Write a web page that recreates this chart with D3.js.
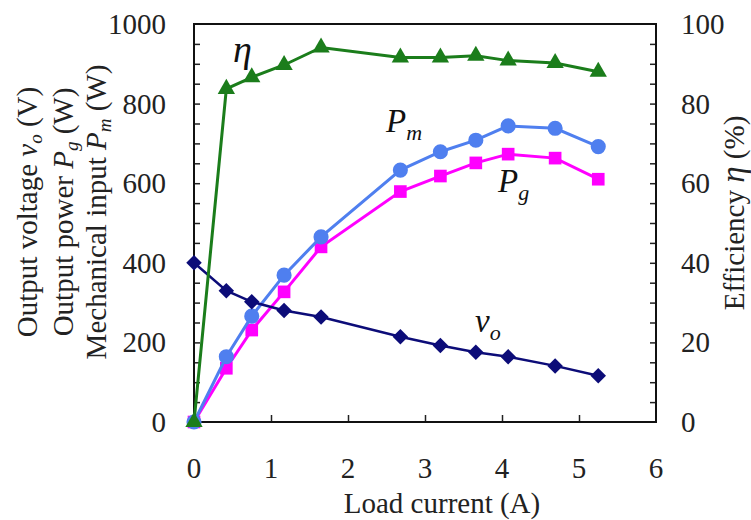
<!DOCTYPE html>
<html lang="en">
  <head>
    <meta charset="UTF-8" />
    <script src="https://d3js.org/d3.v7.min.js"></script>
    <style>
      body { margin: 0; background: #fff; }
    </style>
    <title>Load current</title>
  </head>
  <body>
    <svg id="chart" width="751" height="520"></svg>
    <script>
      // values
      const current = [0, 0.42, 0.75, 1.17, 1.65, 2.68, 3.2, 3.66, 4.08, 4.69, 5.25];
      const vo = [400, 330, 302, 280, 264, 214, 192, 175, 164, 141, 116];
      const pm = [0, 164, 266, 369, 465, 633, 679, 708, 744, 738, 692];
      const pg = [0, 135, 231, 327, 440, 579, 618, 651, 673, 663, 610];
      const eta = [0, 83.7, 86.6, 89.7, 94.1, 91.6, 91.6, 92.0, 90.8, 90.2, 88.0];
      const xTicks = [0, 1, 2, 3, 4, 5, 6];
      const leftTicks = [0, 200, 400, 600, 800, 1000];
      const rightTicks = [0, 20, 40, 60, 80, 100];

      const serif = "Liberation Serif, DejaVu Serif, serif";
      const svg = d3.select("#chart");
      const plotLeft = 194, plotRight = 656, plotTop = 24, plotBottom = 422;

      const x = d3.scaleLinear().domain([0, 6]).range([plotLeft, plotRight]);
      const y = d3.scaleLinear().domain([0, 1000]).range([plotBottom, plotTop]);
      const y2 = d3.scaleLinear().domain([0, 100]).range([plotBottom, plotTop]);

      // axes with inward ticks
      svg.append("g")
        .attr("transform", `translate(0,${plotBottom})`)
        .call(d3.axisTop(x).tickValues(d3.range(1, 6)).tickSize(7).tickFormat(""))
        .call(g => g.select(".domain").remove());
      svg.append("g")
        .attr("transform", `translate(${plotLeft},0)`)
        .call(d3.axisRight(y).tickValues(d3.range(50, 1000, 50)).tickSize(6).tickFormat(""))
        .call(g => g.select(".domain").remove());
      svg.append("g")
        .attr("transform", `translate(${plotRight},0)`)
        .call(d3.axisLeft(y2).tickValues(d3.range(5, 100, 5)).tickSize(6).tickFormat(""))
        .call(g => g.select(".domain").remove());
      svg.selectAll(".tick line").attr("stroke", "#222").attr("stroke-width", 1.5);

      svg.append("rect")
        .attr("x", plotLeft).attr("y", plotTop)
        .attr("width", plotRight - plotLeft).attr("height", plotBottom - plotTop)
        .attr("fill", "none").attr("stroke", "#111").attr("stroke-width", 2);

      const texts = svg.append("g")
        .attr("font-family", serif)
        .attr("fill", "#222");

      // tick labels
      texts.selectAll("text.xl").data(xTicks).join("text")
        .attr("class", "xl")
        .attr("x", d => x(d)).attr("y", 478)
        .attr("text-anchor", "middle").attr("font-size", 29)
        .text(d => d);
      texts.selectAll("text.yl").data(leftTicks).join("text")
        .attr("class", "yl")
        .attr("x", 166).attr("y", d => y(d) + 10)
        .attr("text-anchor", "end").attr("font-size", 29)
        .text(d => d);
      texts.selectAll("text.y2l").data(rightTicks).join("text")
        .attr("class", "y2l")
        .attr("x", 681).attr("y", d => y2(d) + 10)
        .attr("text-anchor", "start").attr("font-size", 29)
        .text(d => d);

      texts.append("text")
        .attr("x", x(3) + 17).attr("y", 513)
        .attr("text-anchor", "middle").attr("font-size", 29)
        .text("Load current (A)");

      // left titles
      const leftTitles = [
        { bx: 37, a: "Output voltage ", v: "v", s: "o", b: " (V)" },
        { bx: 73, a: "Output power ", v: "P", s: "g", b: " (W)" },
        { bx: 106, a: "Mechanical input ", v: "P", s: "m", b: " (W)" }
      ];
      leftTitles.forEach(t => {
        const tx = texts.append("text")
          .attr("transform", `translate(${t.bx},212) rotate(-90)`)
          .attr("text-anchor", "middle").attr("font-size", 29);
        tx.append("tspan").text(t.a);
        tx.append("tspan").attr("font-style", "italic").text(t.v);
        tx.append("tspan").attr("font-style", "italic").attr("font-size", 19).attr("dy", 5).text(t.s);
        tx.append("tspan").attr("dy", -5).text(t.b);
      });

      const rt = texts.append("text")
        .attr("transform", "translate(744,213) rotate(-90)")
        .attr("text-anchor", "middle").attr("font-size", 29);
      rt.append("tspan").text("Efficiency ");
      rt.append("tspan").attr("font-style", "italic").attr("font-size", 33).text("η");
      rt.append("tspan").text(" (%)");

      // series
      const series = [
        { vals: pg, scale: y, color: "#ff00ff", sym: d3.symbolSquare, size: 160, rot: 0, w: 3 },
        { vals: pm, scale: y, color: "#4f7fef", sym: d3.symbolCircle, size: 180, rot: 0, w: 3 },
        { vals: vo, scale: y, color: "#0c0c78", sym: d3.symbolSquare, size: 120, rot: 45, w: 2.5 },
        { vals: eta, scale: y2, color: "#1b7d1b", sym: d3.symbolTriangle, size: 130, rot: 0, w: 3 }
      ];

      series.forEach(s => {
        const pts = current.map((c, i) => [x(c), s.scale(s.vals[i])]);
        svg.append("path")
          .attr("d", d3.line()(pts))
          .attr("fill", "none").attr("stroke", s.color).attr("stroke-width", s.w);
        svg.append("g").selectAll("path").data(pts).join("path")
          .attr("transform", d => `translate(${d[0]},${d[1]}) rotate(${s.rot})`)
          .attr("d", d3.symbol().type(s.sym).size(s.size))
          .attr("fill", s.color);
      });

      // series labels
      function label(px, py, main, sub, size) {
        const t = svg.append("text").attr("x", px).attr("y", py)
          .attr("font-family", serif)
          .attr("font-size", size).attr("font-style", "italic").attr("fill", "#111");
        t.append("tspan").text(main);
        if (sub) t.append("tspan").attr("font-size", 22).attr("dy", 8).text(sub);
      }
      label(233, 62, "η", null, 38);
      label(386, 132, "P", "m", 33);
      label(498, 192, "P", "g", 33);
      label(475, 332, "v", "o", 33);
    </script>
  </body>
</html>
